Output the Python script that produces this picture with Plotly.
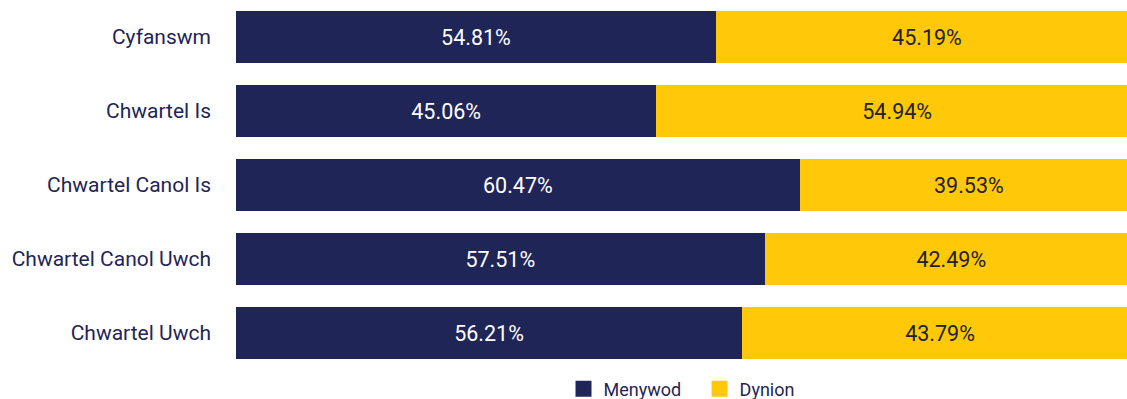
import plotly.graph_objects as go

categories = ["Cyfanswm", "Chwartel Is", "Chwartel Canol Is", "Chwartel Canol Uwch", "Chwartel Uwch"]
# percentage labels as printed on the bars
menywod_labels = [54.81, 45.06, 60.47, 57.51, 56.21]
dynion_labels = [45.19, 54.94, 39.53, 42.49, 43.79]
# segment lengths as drawn (share of the full bar)
menywod_len = [53.2, 46.6, 62.5, 58.6, 56.1]
dynion_len = [46.8, 53.4, 37.5, 41.4, 43.9]
legend_names = ["Menywod", "Dynion"]

navy = "#1f2556"
yellow = "#ffc909"
font_family = "Roboto"

fig = go.Figure()
fig.add_trace(go.Bar(
    y=categories, x=menywod_len, name="Menywod", orientation="h",
    marker=dict(color=navy, line=dict(width=0)),
    text=[f"{v:.2f}%" for v in menywod_labels], textposition="inside", insidetextanchor="middle",
    textfont=dict(color="white", size=21.5, family=font_family),
    hoverinfo="skip", showlegend=False,
))
fig.add_trace(go.Bar(
    y=categories, x=dynion_len, name="Dynion", orientation="h",
    marker=dict(color=yellow, line=dict(width=0)),
    text=[f"{v:.2f}%" for v in dynion_labels], textposition="inside", insidetextanchor="middle",
    textfont=dict(color="#222222", size=21.5, family=font_family),
    hoverinfo="skip", showlegend=False, cliponaxis=True,
))
# legend entries with larger square swatches
for nm, col in zip(legend_names, [navy, yellow]):
    label = nm + ("\u00a0\u00a0\u00a0" if nm == "Menywod" else "")
    fig.add_trace(go.Scatter(
        x=[None], y=[None], mode="markers", name=label,
        marker=dict(symbol="square", size=16, color=col), showlegend=True,
    ))

fig.update_layout(
    barmode="stack",
    bargap=0.297,
    width=1127, height=399,
    margin=dict(l=236, r=0, t=0, b=29),
    paper_bgcolor="white", plot_bgcolor="white",
    font=dict(family=font_family, color=navy),
    uniformtext=dict(mode=False),
    legend=dict(orientation="h", x=0.5, xanchor="center", xref="paper",
                y=0.025, yanchor="middle", yref="container",
                font=dict(size=18, color=navy), itemwidth=30, traceorder="normal"),
    xaxis=dict(range=[0, 98.78], visible=False, fixedrange=True),
    yaxis=dict(autorange="reversed", showgrid=False, zeroline=False, showline=False,
               ticks="", tickfont=dict(size=21, color=navy), ticklabelstandoff=24),
)
fig.write_html("out.html")
